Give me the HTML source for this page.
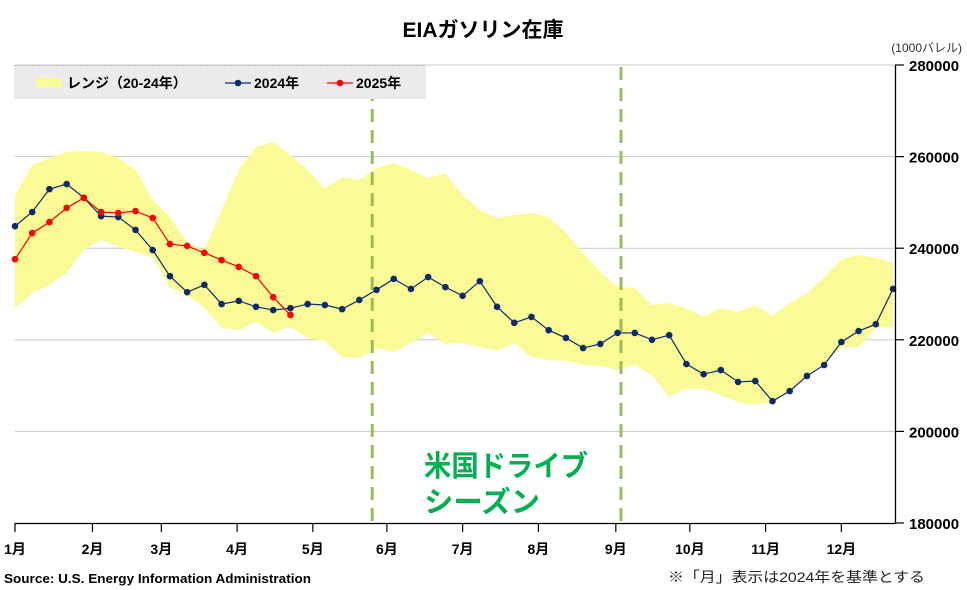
<!DOCTYPE html>
<html><head><meta charset="utf-8">
<style>
body{margin:0;background:#fff;}
svg{display:block;font-family:"Liberation Sans","Noto Sans CJK JP",sans-serif;}
</style></head>
<body>
<svg id="chart" width="967" height="590" viewBox="0 0 967 590" xmlns="http://www.w3.org/2000/svg">
<rect width="967" height="590" fill="#fff"/>
<text x="483" y="37" text-anchor="middle" font-size="21" font-weight="bold" fill="#000">EIAガソリン在庫</text>
<text x="962" y="52" text-anchor="end" font-size="12" fill="#333">(1000バレル)</text>
<g id="grid"></g>
<g id="band"></g>
<g id="vlines"></g>
<g id="s2024"></g>
<g id="s2025"></g>
<g id="axes"></g>
<g>
  <rect x="14" y="65" width="412" height="34" fill="#ebebeb"/>
  <line x1="14" y1="65.5" x2="426" y2="65.5" stroke="#bbb" stroke-dasharray="2,1"/>
  <rect x="36" y="78" width="26" height="9" fill="#fafa96"/>
  <text x="67" y="88" font-size="14" font-weight="bold">レンジ（20-24年）</text>
  <line x1="225" y1="83" x2="251" y2="83" stroke="#0d2a6b" stroke-width="1.3"/>
  <circle cx="238" cy="83" r="3.3" fill="#0d2a6b"/>
  <text x="254" y="88" font-size="14" font-weight="bold">2024年</text>
  <line x1="327" y1="83" x2="353" y2="83" stroke="#ff0000" stroke-width="1.3"/>
  <circle cx="340" cy="83" r="3.3" fill="#ff0000"/>
  <text x="356" y="88" font-size="14" font-weight="bold">2025年</text>
</g>
<text x="424" y="476" font-size="29" font-weight="bold" fill="#00b050" textLength="164" lengthAdjust="spacingAndGlyphs">米国ドライブ</text>
<text x="424" y="512" font-size="29" font-weight="bold" fill="#00b050" textLength="116" lengthAdjust="spacingAndGlyphs">シーズン</text>
<text x="4" y="583" font-size="12.5" font-weight="bold" textLength="307" lengthAdjust="spacingAndGlyphs">Source: U.S. Energy Information Administration</text>
<text x="668" y="582" font-size="14" fill="#222" textLength="257" lengthAdjust="spacingAndGlyphs">※「月」表示は2024年を基準とする</text>
</svg>
<script>
// values in thousand barrels
const yTicks = [180000, 200000, 220000, 240000, 260000, 280000];
const months = ["1月","2月","3月","4月","5月","6月","7月","8月","9月","10月","11月","12月"];
const monthPos = [0, 4.5, 8.5, 12.9, 17.3, 21.6, 26, 30.4, 34.9, 39.2, 43.6, 48];
const v2024 = [244.8,247.9,252.9,254.0,251.0,247.0,246.8,244.0,239.6,233.9,230.4,232.0,227.8,228.5,227.2,226.5,226.9,227.8,227.6,226.7,228.7,230.9,233.3,231.1,233.7,231.5,229.6,232.8,227.2,223.7,225.0,222.1,220.4,218.2,219.1,221.5,221.5,220.0,221.0,214.7,212.5,213.4,210.8,211.0,206.6,208.8,212.1,214.5,219.5,221.9,223.4,231.1];
const v2025 = [237.6,243.3,245.7,248.8,251.0,247.9,247.7,248.1,246.6,240.9,240.5,239.0,237.4,235.9,233.9,229.3,225.4];
const rangeHigh = [251.6,258.2,259.7,261.0,261.2,261.0,259.7,257.1,250.5,246.8,241.1,239.6,248.3,257.1,262.1,263.2,260.3,257.1,253.1,255.5,254.9,257.5,258.6,257.1,255.3,256.4,251.6,248.3,246.6,247.2,247.7,246.8,243.3,239.0,234.8,231.5,231.3,227.6,228.0,226.9,225.0,226.9,226.1,227.6,225.2,228.0,230.2,233.7,237.6,238.5,237.9,236.8];
const rangeLow = [226.9,230.2,232.0,234.6,239.6,241.8,240.3,239.2,238.1,231.5,229.8,226.9,222.6,222.1,223.9,221.5,222.8,220.4,219.7,216.2,216.0,218.2,217.3,219.3,221.5,219.1,219.3,218.4,217.6,219.3,216.2,215.6,215.4,214.5,214.3,213.4,214.5,212.3,207.5,209.3,209.3,207.9,206.4,205.8,206.4,209.0,212.3,214.9,218.4,218.4,222.6,222.8];
const driveWeeks = [20.75, 35.2];

const X0 = 15, X1 = 893, YT = 65, YB = 523;
const ns = "http://www.w3.org/2000/svg";
function xs(i){ return X0 + (X1 - X0) * i / 51; }
function ys(v){ return YB - (v*1000 - 180000) / 100000 * (YB - YT); }
function mk(tag, attrs, parent){
  const e = document.createElementNS(ns, tag);
  for (const k in attrs) e.setAttribute(k, attrs[k]);
  parent.appendChild(e);
  return e;
}
const grid = document.getElementById('grid');
yTicks.forEach(t => {
  if (t === 180000) return;
  const l = mk('line', {x1: X0, x2: 895, y1: ys(t/1000), y2: ys(t/1000), stroke: '#c8c8c8', 'stroke-width': 1}, grid);
  
  
});
const band = document.getElementById('band');
let d = '';
rangeHigh.forEach((v,i) => { d += (i ? 'L' : 'M') + xs(i) + ',' + ys(v); });
for (let i = rangeLow.length - 1; i >= 0; i--) d += 'L' + xs(i) + ',' + ys(rangeLow[i]);
const bp = mk('path', {d: d + 'Z', fill: '#fafa96'}, band);


const vl = document.getElementById('vlines');
driveWeeks.forEach(w => {
  const l = mk('line', {x1: xs(w), x2: xs(w), y1: 67, y2: 523, stroke: '#9bbb59', 'stroke-width': 3, 'stroke-dasharray': '13,8'}, vl);
  
  
});
function series(vals, color, gid, name){
  const g = document.getElementById(gid);
  const p = mk('polyline', {points: vals.map((v,i) => xs(i) + ',' + ys(v)).join(' '), fill: 'none', stroke: color, 'stroke-width': 1.2}, g);
  
  
  vals.forEach((v,i) => {
    const c = mk('circle', {cx: xs(i), cy: ys(v), r: 3.3, fill: color}, g);
    
    
  });
}
series(v2024, '#0d2a6b', 's2024', 'series-2024');
series(v2025, '#ff0000', 's2025', 'series-2025');
const ax = document.getElementById('axes');
const xa = mk('line', {x1: X0, x2: 896, y1: YB + 0.5, y2: YB + 0.5, stroke: '#000', 'stroke-width': 1.3}, ax);


const ya = mk('line', {x1: 895.5, x2: 895.5, y1: YT, y2: YB + 1, stroke: '#000', 'stroke-width': 1.3}, ax);


yTicks.forEach(t => {
  const y = ys(t/1000);
  mk('line', {x1: 895, x2: 904, y1: y, y2: y, stroke: '#000', 'stroke-width': 1.2}, ax);
  const tx = mk('text', {x: 909, y: y + 6, 'font-size': 15, 'font-weight': 'bold'}, ax);
  tx.textContent = t;
  
  
});
months.forEach((m,i) => {
  const x = xs(monthPos[i]);
  mk('line', {x1: x, x2: x, y1: YB, y2: YB + 9, stroke: '#000', 'stroke-width': 1.2}, ax);
  const tx = mk('text', {x: x, y: 554, 'font-size': 14, 'font-weight': 'bold', 'text-anchor': 'middle'}, ax);
  tx.textContent = m;
  
  
});
</script>
</body></html>
